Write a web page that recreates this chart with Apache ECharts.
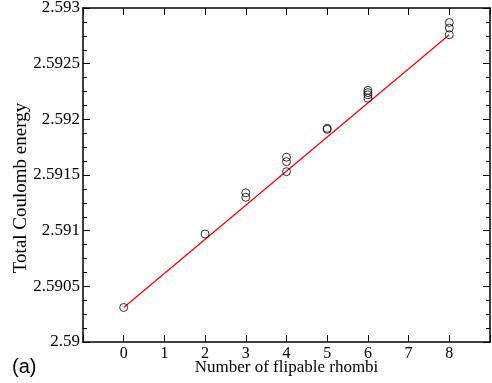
<!DOCTYPE html>
<html>
<head>
<meta charset="utf-8">
<script src="https://cdn.jsdelivr.net/npm/echarts@6/dist/echarts.min.js"></script>
<style>
  html, body { margin: 0; padding: 0; background: #fff; }
  #chart { width: 492px; height: 383px; }
</style>
</head>
<body>
<div id="chart"></div>
<script>
  // measured points: [number of flipable rhombi, total Coulomb energy]
  const xTicks = [0, 1, 2, 3, 4, 5, 6, 7, 8];
  const pointsX = [0, 2, 3, 3, 4, 4, 4, 5, 5, 6, 6, 6, 6, 8, 8, 8];
  const pointsY = [2.59031, 2.59097, 2.59134, 2.59130, 2.59166, 2.59162, 2.59153,
    2.59192, 2.59191, 2.59226, 2.59224, 2.59222, 2.59219, 2.59287, 2.59282, 2.59276];
  const fitX = [0, 8];
  const fitY = [2.59031, 2.59276];

  const chart = echarts.init(document.getElementById('chart'));
  const serif = 'Liberation Serif';
  const axisLine = { onZero: false, lineStyle: { color: '#000', width: 1.5 } };
  const majorTick = { inside: true, length: 7, lineStyle: { color: '#000', width: 1 } };
  const minorTick = { show: true, splitNumber: 4, length: 4, lineStyle: { color: '#000', width: 1 } };

  chart.setOption({
    animation: false,
    grid: { left: 83, top: 8, right: 2, bottom: 41, containLabel: false, outerBoundsMode: 'none' },
    graphic: [
      {
        type: 'text', left: 12, top: 357,
        style: { text: '(a)', font: '20px "Liberation Sans", Arial, sans-serif', fill: '#000' },
      },
      {
        // y axis title sits a little below the plot centre in the original
        type: 'text', x: 21, y: 188, rotation: Math.PI / 2,
        style: {
          text: 'Total Coulomb energy', font: '19px "Liberation Serif", serif', fill: '#000',
          align: 'center', verticalAlign: 'middle',
        },
      },
    ],
    xAxis: [
      {
        type: 'value', min: -1, max: 9, interval: 1,
        axisLine, axisTick: majorTick, splitLine: { show: false },
        axisLabel: {
          color: '#000', fontFamily: serif, fontSize: 16, margin: 4,
          formatter: (v) => (xTicks.includes(v) ? String(v) : ''),
        },
        name: 'Number of flipable rhombi', nameLocation: 'middle', nameGap: 17,
        nameMoveOverlap: false,
        nameTextStyle: { color: '#000', fontFamily: serif, fontSize: 17 },
      },
      {
        type: 'value', position: 'top', min: -1, max: 9, interval: 1,
        axisLine, axisTick: majorTick, axisLabel: { show: false }, splitLine: { show: false },
      },
    ],
    yAxis: [
      {
        type: 'value', min: 2.59, max: 2.593, interval: 0.0005,
        axisLine, axisTick: majorTick, minorTick, splitLine: { show: false },
        axisLabel: {
          color: '#000', fontFamily: serif, fontSize: 17, margin: 3,
          formatter: (v) => String(+v.toFixed(4)),
        },
      },
      {
        type: 'value', position: 'right', min: 2.59, max: 2.593, interval: 0.0005,
        axisLine, axisTick: majorTick, minorTick, axisLabel: { show: false }, splitLine: { show: false },
      },
    ],
    series: [
      {
        type: 'line',
        data: fitX.map((x, i) => [x, fitY[i]]),
        showSymbol: false,
        lineStyle: { color: '#ff0000', width: 1.3 },
        z: 2,
      },
      {
        type: 'scatter',
        data: pointsX.map((x, i) => [x, pointsY[i]]),
        symbol: 'circle',
        symbolSize: 8,
        itemStyle: { color: 'rgba(0,0,0,0)', borderColor: '#000', borderWidth: 1 },
        z: 3,
      },
    ],
  });
</script>
</body>
</html>
